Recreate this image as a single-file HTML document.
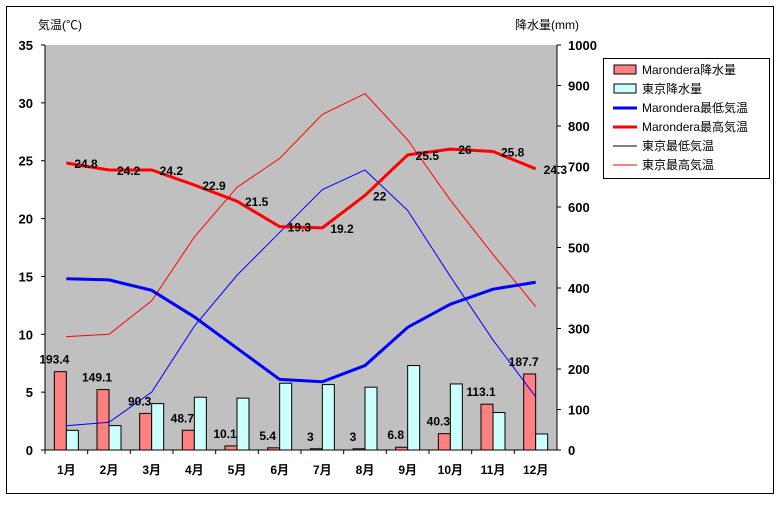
<!DOCTYPE html>
<html><head><meta charset="utf-8"><style>
body{margin:0;background:#fff;}
svg text{font-family:"Liberation Sans","Noto Sans CJK JP",sans-serif;}
</style></head><body>
<svg id="chart" width="780" height="500" xmlns="http://www.w3.org/2000/svg">
<rect x="6.5" y="6.5" width="767" height="487" fill="#fff" stroke="#000" stroke-width="1"/>
<rect x="45" y="45" width="512" height="405" fill="#c0c0c0"/>
<g id="axes"></g>
<g id="bars"></g>
<g id="lines"></g>
<g id="labels"></g>
<text x="38" y="29" font-size="12">気温(℃)</text>
<text x="515" y="29" font-size="12">降水量(mm)</text>
<g>
<rect x="603.5" y="58.5" width="166" height="120" fill="#fff" stroke="#000"/>
<rect x="614" y="65" width="22" height="9" fill="#ff8080" stroke="#000"/>
<text x="642" y="74" font-size="12">Marondera降水量</text>
<rect x="614" y="84" width="22" height="9" fill="#ccffff" stroke="#000"/>
<text x="642" y="93" font-size="12">東京降水量</text>
<line x1="613" y1="108" x2="637" y2="108" stroke="#0000ff" stroke-width="3"/>
<text x="642" y="112" font-size="12">Marondera最低気温</text>
<line x1="613" y1="127" x2="637" y2="127" stroke="#ff0000" stroke-width="3"/>
<text x="642" y="131" font-size="12">Marondera最高気温</text>
<line x1="613" y1="146" x2="637" y2="146" stroke="#000" stroke-width="1"/>
<text x="642" y="150" font-size="12">東京最低気温</text>
<line x1="613" y1="165" x2="637" y2="165" stroke="#ff0000" stroke-width="1"/>
<text x="642" y="169" font-size="12">東京最高気温</text>
</g>
</svg>
<script>
const months=["1月","2月","3月","4月","5月","6月","7月","8月","9月","10月","11月","12月"];
const marPrecip=[193.4,149.1,90.3,48.7,10.1,5.4,3,3,6.8,40.3,113.1,187.7];
const tokPrecip=[48.6,60.2,114.5,130.3,128.0,164.9,161.5,155.1,208.5,163.1,92.5,39.6];
const marMin=[14.8,14.7,13.8,11.5,8.8,6.1,5.9,7.3,10.6,12.6,13.9,14.5];
const marMax=[24.8,24.2,24.2,22.9,21.5,19.3,19.2,22,25.5,26,25.8,24.3];
const tokMin=[2.1,2.4,5.0,10.7,15.1,18.8,22.5,24.2,20.7,15.0,9.5,4.6];
const tokMax=[9.8,10.0,12.9,18.4,22.7,25.2,29.0,30.8,26.8,21.6,16.9,12.4];
const tTicks=[0,5,10,15,20,25,30,35];
const pTicks=[0,100,200,300,400,500,600,700,800,900,1000];
const NS="http://www.w3.org/2000/svg";
const L=45,R=557,T=45,B=450,gw=(R-L)/12;
const xC=i=>L+gw*(i+0.5);
const yT=v=>B-(v/35)*(B-T);
const yP=v=>B-(v/1000)*(B-T);
function mk(tag,parent,at){const e=document.createElementNS(NS,tag);for(const k in at)e.setAttribute(k,at[k]);document.getElementById(parent).appendChild(e);return e;}
// axes
let e=mk("line","axes",{x1:L,y1:T,x2:L,y2:B,stroke:"#000"});


e=mk("line","axes",{x1:R,y1:T,x2:R,y2:B,stroke:"#000"});


e=mk("line","axes",{x1:L,y1:B,x2:R,y2:B,stroke:"#000"});


tTicks.forEach(v=>{
 mk("line","axes",{x1:L-4,y1:yT(v),x2:L,y2:yT(v),stroke:"#000"});
 const t=mk("text","axes",{x:33,y:yT(v)+5,"font-size":"13","font-weight":"bold","text-anchor":"end"});t.textContent=v;
 
 
});
pTicks.forEach(v=>{
 mk("line","axes",{x1:R,y1:yP(v),x2:R+4,y2:yP(v),stroke:"#000"});
 const t=mk("text","axes",{x:568,y:yP(v)+5,"font-size":"13","font-weight":"bold"});t.textContent=v;
 
 
});
months.forEach((m,i)=>{
 mk("line","axes",{x1:L+gw*i,y1:B,x2:L+gw*i,y2:B+4,stroke:"#000"});
 const t=mk("text","axes",{x:xC(i),y:474,"font-size":"12","font-weight":"bold","text-anchor":"middle"});t.textContent=m;
 
 
});
// bars
marPrecip.forEach((v,i)=>{
 const b=mk("rect","bars",{x:xC(i)-12,y:yP(v),width:12,height:B-yP(v),fill:"#ff8080",stroke:"#000"});
 
 
 const t=mk("text","labels",{x:xC(i)-12,y:yP(v)-8,"font-size":"12","font-weight":"bold","text-anchor":"middle"});t.textContent=v;
 
 
});
tokPrecip.forEach((v,i)=>{
 const b=mk("rect","bars",{x:xC(i),y:yP(v),width:12,height:B-yP(v),fill:"#ccffff",stroke:"#000"});
 
 
});
function line(arr,color,w,name){
 const p=mk("polyline","lines",{points:arr.map((v,i)=>xC(i)+","+yT(v)).join(" "),fill:"none",stroke:color,"stroke-width":w});
 
 
}
line(tokMin,"#0000ff",1,"line-tokyo-min");
line(tokMax,"#ff0000",1,"line-tokyo-max");
line(marMin,"#0000ff",3,"line-marondera-min");
line(marMax,"#ff0000",3,"line-marondera-max");
marMax.forEach((v,i)=>{
 const t=mk("text","labels",{x:xC(i)+8,y:yT(v)+5,"font-size":"12","font-weight":"bold"});t.textContent=v;
 
 
});
</script>
</body></html>
